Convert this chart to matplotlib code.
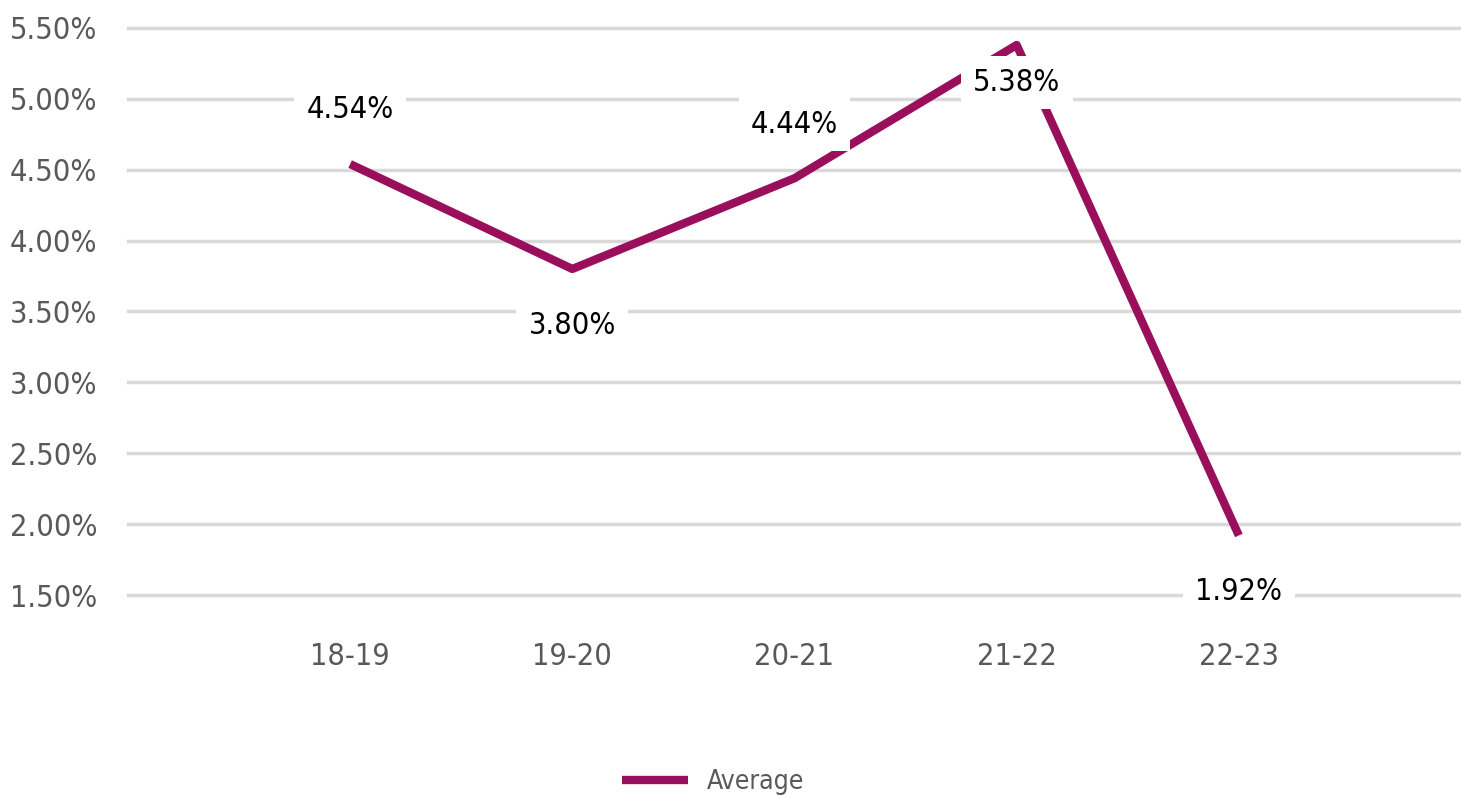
import matplotlib.pyplot as plt
from matplotlib.ticker import FuncFormatter

''' data '''
years = ["18-19", "19-20", "20-21", "21-22", "22-23"]
average = [4.54, 3.80, 4.44, 5.38, 1.92]
# label offsets in points (above / below the point)
label_dy = [39, -41, 39, -27, -40]

line_color = "#990f5c"
grid_color = "#d9d9d9"
tick_color = "#595959"

plt.rcParams['font.family'] = ['DejaVu Sans']
plt.rcParams['font.stretch'] = 'condensed'

fig = plt.figure(figsize=(14.61, 7.99), dpi=100)
ax = fig.add_axes([0.0876, 0.2553, 0.9124, 0.7097])

x = list(range(len(years)))
ax.plot(x, average, color=line_color, linewidth=6, solid_capstyle='butt',
        label="Average", zorder=3)

for xi, v, dy in zip(x, average, label_dy):
    ax.annotate(f"{v:.2f}%", (xi, v), xytext=(0, dy), textcoords="offset points",
                ha='center', va='center', fontsize=22, color='black', zorder=5,
                bbox=dict(boxstyle='square,pad=0.4', fc='white', ec='none'))

ax.set_xlim(-1, 5)
ax.set_ylim(1.5, 5.5)
ax.set_yticks([1.5, 2.0, 2.5, 3.0, 3.5, 4.0, 4.5, 5.0, 5.5])
ax.yaxis.set_major_formatter(FuncFormatter(lambda v, p: f"{v:.2f}%"))
ax.set_xticks(x)
ax.set_xticklabels(years)
ax.tick_params(axis='both', length=0, labelsize=22, labelcolor=tick_color)
ax.tick_params(axis='x', pad=34)
ax.tick_params(axis='y', pad=22)
ax.grid(axis='y', color=grid_color, linewidth=2.5)
for gl in ax.get_ygridlines():
    gl.set_clip_on(False)
ax.set_axisbelow(True)
for s in ax.spines.values():
    s.set_visible(False)

fig.legend(loc='center', bbox_to_anchor=(713 / 1461, 1 - 782 / 799), frameon=False,
           fontsize=19, labelcolor=tick_color, handlelength=2.5, handletextpad=0.7)

fig.savefig("out.png", dpi=100)
